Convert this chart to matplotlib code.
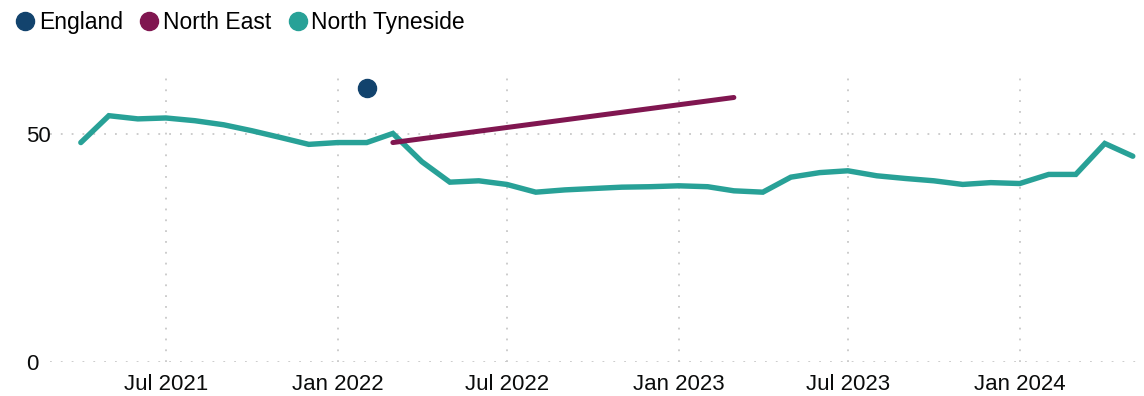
import numpy as np
import pandas as pd
import matplotlib
matplotlib.use("Agg")
import matplotlib.pyplot as plt
import matplotlib.dates as mdates
from matplotlib.lines import Line2D

plt.rcParams['font.family'] = ['Liberation Sans', 'DejaVu Sans']

# data
tyneside_months = pd.date_range("2021-04-01", "2024-05-01", freq="MS")
tyneside_values = [48.2, 54.1, 53.4, 53.6, 53.0, 52.1, 50.8, 49.3, 47.8, 48.2, 48.2, 50.2,
                   44.0, 39.5, 39.8, 39.0, 37.3, 37.8, 38.1, 38.4, 38.5, 38.7, 38.5, 37.6,
                   37.3, 40.6, 41.6, 42.0, 40.9, 40.3, 39.8, 39.0, 39.4, 39.2, 41.2, 41.2,
                   48.0, 45.2]
north_east_dates = pd.to_datetime(["2022-03-01", "2023-03-01"])
north_east_values = [48.2, 58.1]
england_dates = pd.to_datetime(["2022-02-01"])
england_values = [60.1]

series_names = ["England", "North East", "North Tyneside"]
colours = ["#12436D", "#801650", "#28A197"]
xtick_dates = pd.to_datetime(["2021-07-01", "2022-01-01", "2022-07-01",
                              "2023-01-01", "2023-07-01", "2024-01-01"])
ytick_values = [0, 50]

fig = plt.figure(figsize=(11.44, 3.96), dpi=100)
ax = fig.add_axes([0.0437, 0.0859, 0.9563, 0.7323])

ax.plot(tyneside_months, tyneside_values, color=colours[2], lw=3.9,
        solid_capstyle='round', solid_joinstyle='miter', zorder=3)
ax.plot(north_east_dates, north_east_values, color=colours[1], lw=3.6,
        solid_capstyle='round', zorder=3)
ax.plot(england_dates, england_values, 'o', color=colours[0], ms=13, zorder=4)

ax.set_xlim(pd.Timestamp("2021-02-27"), pd.Timestamp("2024-05-13"))
ax.set_ylim(0, 63.7)
ax.set_xticks(xtick_dates)
ax.xaxis.set_major_formatter(mdates.DateFormatter("%b %Y"))
ax.set_yticks(ytick_values)

for s in ax.spines.values():
    s.set_visible(False)
ax.grid(True, color="#c8c8c8", linestyle=(0, (1, 5)), lw=1.3)
ax.set_axisbelow(True)
ax.tick_params(axis='both', length=0, labelsize=16, colors="#0b0c0c")
ax.tick_params(axis='x', pad=9)
ax.tick_params(axis='y', pad=17)
for lab in ax.get_yticklabels():
    lab.set_horizontalalignment('left')

handles = [Line2D([], [], ls='none', marker='o', ms=13, color=c) for c in colours]
fig.legend(handles, series_names, loc='upper left', bbox_to_anchor=(-0.002, 1.006),
           ncol=3, frameon=False, fontsize=16.5, handletextpad=0.0,
           columnspacing=0.55, handlelength=1.2, borderaxespad=0.2)

fig.savefig("out.png", dpi=100)
